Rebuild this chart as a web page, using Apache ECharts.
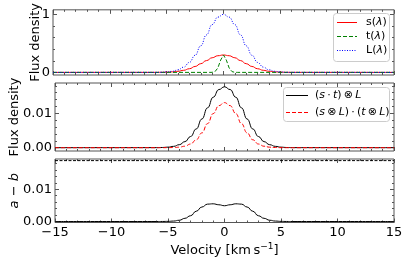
<!DOCTYPE html>
<html>
<head>
<meta charset="utf-8">
<script src="https://cdn.jsdelivr.net/npm/echarts@6/dist/echarts.min.js"></script>
<style>html,body{margin:0;padding:0;background:#fff}#c{width:407px;height:259px}</style>
</head>
<body>
<div id="c"></div>
<script>
// ---- data ----
const velocity = [-15, -6, -5.5, -5, -4.5, -4, -3.5, -3, -2.5, -2, -1.5, -1, -0.5, 0, 0.5, 1, 1.5, 2, 2.5, 3, 3.5, 4, 4.5, 5, 5.5, 6, 15];
const sLambda = [0, 0.0005, 0.0015, 0.004, 0.009, 0.019, 0.036, 0.063, 0.102, 0.150, 0.203, 0.252, 0.287, 0.300, 0.287, 0.252, 0.203, 0.150, 0.102, 0.063, 0.036, 0.019, 0.009, 0.004, 0.0015, 0.0005, 0];
const LLambda = [0, 0.0009, 0.0027, 0.0076, 0.019, 0.044, 0.091, 0.172, 0.295, 0.458, 0.645, 0.823, 0.952, 1.000, 0.952, 0.823, 0.645, 0.458, 0.295, 0.172, 0.091, 0.044, 0.019, 0.0076, 0.0027, 0.0009, 0];
const velocityFine = [-15, -1.25, -1, -0.75, -0.5, -0.25, 0, 0.25, 0.5, 0.75, 1, 1.25, 15];
const tLambda = [0, 0, 0.0012, 0.013, 0.075, 0.212, 0.300, 0.212, 0.075, 0.013, 0.0012, 0, 0];
const convProduct = [0, 0.00002, 0.00006, 0.00016, 0.00039, 0.00087, 0.00176, 0.00325, 0.00545, 0.00834, 0.01159, 0.01466, 0.01689, 0.0177, 0.01689, 0.01466, 0.01159, 0.00834, 0.00545, 0.00325, 0.00176, 0.00087, 0.00039, 0.00016, 0.00006, 0.00002, 0];
const productConv = [0, 0, 0, 0.00001, 0.00005, 0.00015, 0.00043, 0.00107, 0.0023, 0.0043, 0.0070, 0.00991, 0.01222, 0.0131, 0.01222, 0.00991, 0.0070, 0.0043, 0.0023, 0.00107, 0.00043, 0.00015, 0.00005, 0.00001, 0, 0, 0];
const difference = [0, 0.00001, 0.00002, 0.00005, 0.00015, 0.0004, 0.0010, 0.0018, 0.0032, 0.0045, 0.0054, 0.0055, 0.0052, 0.0049, 0.0052, 0.0055, 0.0054, 0.0045, 0.0032, 0.0018, 0.0010, 0.0004, 0.00015, 0.00005, 0.00002, 0.00001, 0];
const limitX = [-15, 15];
const limitY = [0.0189, 0.0189];
// tick positions
const xTicks = [-15, -10, -5, 0, 5, 10, 15];
const yMajor1 = [0, 1];
const yMinor1 = [0.2, 0.4, 0.6, 0.8];
const yMajor2 = [0, 0.01];
const yMinor2 = [0.002, 0.004, 0.006, 0.008, 0.012, 0.014, 0.016, 0.018];
const yMajor3 = [0, 0.01];
const yMinor3 = [0.002, 0.004, 0.006, 0.008, 0.012, 0.014, 0.016, 0.018];
// legend entries
const legend1Names = ['s', 't', 'L'];
const legend2Names = ['a', 'b'];

const FONT = 'DejaVu Sans';
const FRAME = '#555';
const zip = (xs, ys) => xs.map((x, i) => [x, ys[i]]);
const minus = v => (v < 0 ? '\u2212' + (-v) : String(v));

const grids = [
  {top: 7, height: 68},
  {top: 83, height: 68},
  {top: 159, height: 63.5}
].map(g => Object.assign({left: 53, width: 341, show: true, borderColor: FRAME, borderWidth: 1, backgroundColor: 'transparent'}, g));

const xAxis = [];
[0, 1, 2].forEach(g => {
  ['bottom', 'top'].forEach(pos => {
    xAxis.push({
      type: 'value', gridIndex: g, position: pos, min: xTicks[0], max: xTicks[xTicks.length - 1], interval: 5,
      axisLine: {show: false, onZero: false}, splitLine: {show: false},
      axisTick: {inside: true, length: 4, lineStyle: {color: FRAME}},
      minorTick: {show: true, splitNumber: 5, length: 2, lineStyle: {color: FRAME}},
      axisLabel: {show: g === 2 && pos === 'bottom', formatter: minus, fontSize: 13, fontFamily: FONT, color: '#000', margin: 4},
      name: (g === 2 && pos === 'bottom') ? 'Velocity [km\u2009s{sup|\u22121}]' : '',
      nameLocation: 'middle', nameGap: 20, nameMoveOverlap: false,
      nameTextStyle: {fontSize: 13, fontFamily: FONT, color: '#000', rich: {sup: {fontSize: 9, fontFamily: FONT, color: '#000', padding: [0, 0, 7, 0]}}}
    });
  });
});

const yAxis = [];
const ySpecs = [
  {min: -0.045, max: 1.078, major: yMajor1, minor: yMinor1, fmt: v => String(v), name: 'Flux density', gap: 11},
  {min: -0.00096, max: 0.0188, major: yMajor2, minor: yMinor2, fmt: v => v.toFixed(2), name: 'Flux density', gap: 34},
  {min: -0.0003, max: 0.0194, major: yMajor3, minor: yMinor3, fmt: v => v.toFixed(2), name: '{i|a} \u2212 {i|b}', gap: 34}
];
ySpecs.forEach((s, g) => {
  ['left', 'right'].forEach(pos => {
    yAxis.push({
      type: 'value', gridIndex: g, position: pos, min: s.min, max: s.max,
      axisLine: {show: false, onZero: false}, splitLine: {show: false},
      axisTick: {inside: true, length: 4, customValues: s.major, lineStyle: {color: FRAME}},
      axisLabel: {show: pos === 'left', customValues: s.major, formatter: s.fmt, fontSize: 13, fontFamily: FONT, color: '#000', margin: 3},
      name: pos === 'left' ? s.name : '', nameLocation: 'middle', nameGap: s.gap, nameRotate: 90, nameMoveOverlap: false,
      nameTextStyle: {fontSize: 13, fontFamily: FONT, color: '#000', rich: {i: {fontStyle: 'italic', fontSize: 13, fontFamily: FONT, color: '#000'}}}
    });
    yAxis.push({
      type: 'value', gridIndex: g, position: pos, min: s.min, max: s.max,
      axisLine: {show: false, onZero: false}, splitLine: {show: false},
      axisTick: {inside: true, length: 2, customValues: s.minor, lineStyle: {color: FRAME}},
      axisLabel: {show: false}
    });
  });
});

const styles = {
  s: {color: '#ff0000', type: 'solid', dash: null},
  t: {color: '#008000', type: [4, 2], dash: [4, 2]},
  L: {color: '#0000ff', type: [1, 1.5], dash: [1, 1.5]},
  a: {color: '#000000', type: 'solid', dash: null},
  b: {color: '#ff0000', type: [4, 2], dash: [4, 2]},
  diff: {color: '#000000', type: 'solid', dash: null},
  limit: {color: '#000000', type: [3, 1.5], dash: [3, 1.5]}
};

const line = (name, g, data, smooth) => ({
  name, type: 'line', xAxisIndex: g * 2, yAxisIndex: g * 4, data, symbol: 'none',
  smooth: smooth, smoothMonotone: 'x', animation: false,
  lineStyle: {color: styles[name].color, width: 1, type: styles[name].type}, itemStyle: {color: styles[name].color}
});

const series = [
  line('s', 0, zip(velocity, sLambda), 0.5),
  line('t', 0, zip(velocityFine, tLambda), false),
  line('L', 0, zip(velocity, LLambda), 0.5),
  line('a', 1, zip(velocity, convProduct), 0.5),
  line('b', 1, zip(velocity, productConv), 0.5),
  line('diff', 2, zip(velocity, difference), 0.5),
  line('limit', 2, zip(limitX, limitY), false)
];

const legendLabels = {
  s: 's({i|\u03bb})', t: 't({i|\u03bb})', L: 'L({i|\u03bb})',
  a: '({i|s}\u2009\u00b7\u2009{i|t})\u2009\u2297\u2009{i|L}', b: '({i|s}\u2009\u2297\u2009{i|L})\u2009\u00b7\u2009({i|t}\u2009\u2297\u2009{i|L})'
};

// legend boxes drawn as graphic elements (swatch + text)
function legendGraphic(names, box, firstY, stepY, lineX1, lineX2, textX) {
  const els = [{
    type: 'rect', z: 10, shape: {x: box.x, y: box.y, width: box.w, height: box.h, r: 3},
    style: {fill: 'rgba(255,255,255,0.8)', stroke: '#cccccc', lineWidth: 1}
  }];
  names.forEach((n, i) => {
    const y = firstY + i * stepY;
    els.push({
      type: 'line', z: 11, shape: {x1: lineX1, y1: y, x2: lineX2, y2: y},
      style: {stroke: styles[n].color, lineWidth: 1, lineDash: styles[n].dash}
    });
    els.push({
      type: 'text', z: 11, x: textX, y: y,
      style: {text: legendLabels[n], fontSize: 11, fontFamily: FONT, fill: '#000', verticalAlign: 'middle', align: 'left',
        rich: {i: {fontStyle: 'italic', fontSize: 11, fontFamily: FONT, fill: '#000'}}}
    });
  });
  return els;
}

const graphic = [].concat(
  legendGraphic(legend1Names, {x: 333.5, y: 13.5, w: 56, h: 48}, 22.5, 14, 337, 357, 366),
  legendGraphic(legend2Names, {x: 283.5, y: 87.5, w: 106, h: 34}, 95.5, 17, 286, 308, 315)
);

const chart = echarts.init(document.getElementById('c'), null, {renderer: 'canvas'});
chart.setOption({animation: false, grid: grids, xAxis, yAxis, series, graphic});
</script>
</body>
</html>
